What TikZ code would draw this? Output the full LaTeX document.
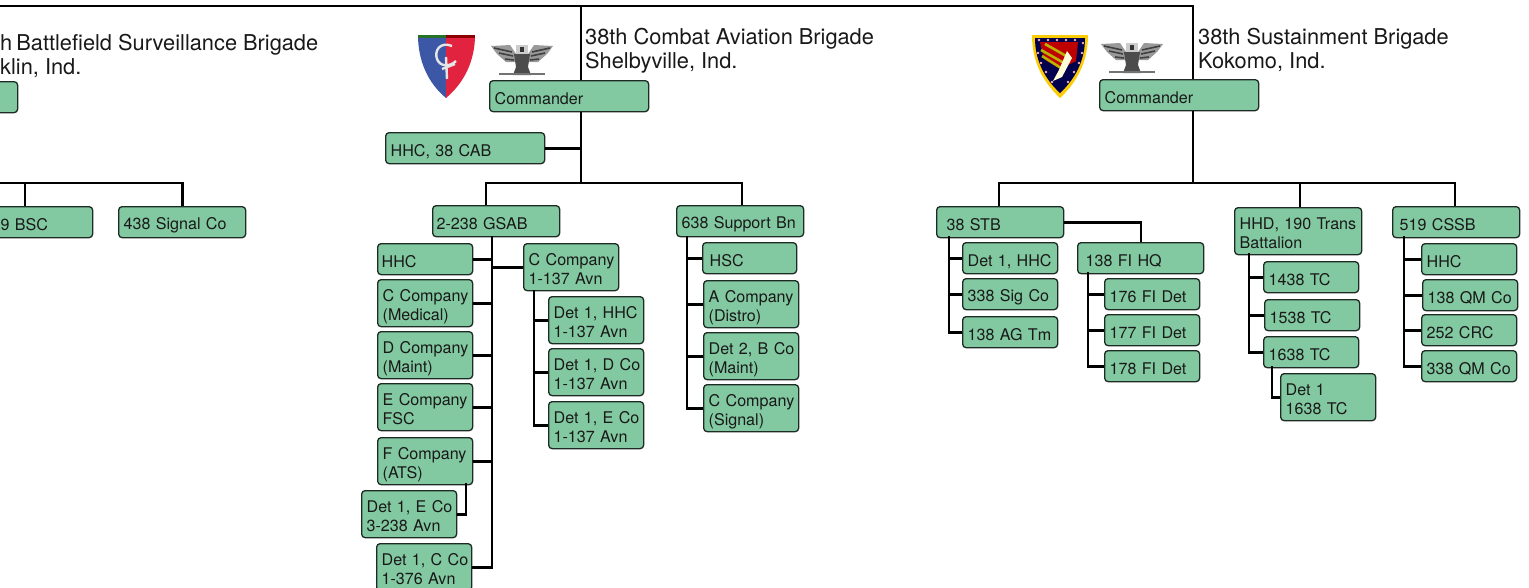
\documentclass[tikz,border=0pt]{standalone}
\usepackage{fontspec}
\setmainfont{TeX Gyre Heros}
\usepackage{tikz}
\usetikzlibrary{arrows.meta,positioning,fit,calc}

\definecolor{unitgreen}{HTML}{82C9A1}
\definecolor{unitedge}{HTML}{1E2A24}
\definecolor{patchblue}{HTML}{3B57A6}
\definecolor{patchred}{HTML}{E1233F}

% wings, body and branch of the rank badge, from the top middle
\newcommand{\eaglemark}[2]{%
  \begin{scope}[shift={(#1,#2)}]
    \fill[black!40] (-31,1) -- (-12,0) -- (-6,9) -- (-6,17) -- (-16,17) -- (-25,9) -- cycle;
    \fill[black!40] (31,1) -- (12,0) -- (6,9) -- (6,17) -- (16,17) -- (25,9) -- cycle;
    \draw[black!75, line width=1.6pt] (-28,3) -- (-10,7) (-23,8) -- (-9,11) (-17,14) -- (-8,15) (28,3) -- (10,7) (23,8) -- (9,11) (17,14) -- (8,15);
    \fill[black!70] (-8,9) -- (8,9) -- (6,22) -- (9,30) -- (-9,30) -- (-6,22) -- cycle;
    \fill[black!20] (-6,0) -- (6,0) -- (6,9) -- (-6,9) -- cycle;
    \fill[black!80] (-2,2) rectangle (2,7);
    \draw[black!55, line width=1.8pt] (-23,29) -- (23,29);
  \end{scope}}

\begin{document}
\begin{tikzpicture}[
  x=1pt, y=-1pt,
  font=\fontsize{16.1}{19}\selectfont,
  unit/.style={draw=unitedge, fill=unitgreen, rounded corners=3.5pt, line width=1.3pt, anchor=north west,
    align=left, inner xsep=3.5pt, inner ysep=0pt, text=black!90,
    execute at begin node={\leftskip=1.5pt\rule{0pt}{19pt}}, execute at end node={\rule[-3pt]{0pt}{3pt}}},
  narrow/.style={unit, text width=88pt},
  wide/.style={unit, text width=120pt},
  cmd/.style={unit, text width=152pt},
  oneline/.style={minimum height=31pt},
  twoline/.style={minimum height=47pt},
  head/.style={anchor=north west, align=left, inner sep=0pt, text=black!90,
    font=\fontsize{21.8}{24}\selectfont},
  link/.style={line width=2.8pt, black, line cap=butt}
]
\useasboundingbox (0,0) rectangle (1529,587);

% brigade titles
\node[head] (bsbtitle) at (0,34.5) {h\hspace{-2pt} Battlefield Surveillance Brigade\\klin, Ind.};
\node[head] (cabtitle) at (585,28.5) {38th Combat Aviation Brigade\\Shelbyville, Ind.};
\node[head] (sbtitle) at (1198,28.5) {38th Sustainment Brigade\\Kokomo, Ind.};

% battlefield surveillance brigade
\node[unit, oneline, text width=15pt] (bsbcmd) at (-5,81) {};
\node[unit, oneline, text width=90pt] (bsc) at (-5,206) {9 BSC};
\node[wide, oneline] (sigco) at (118,206) {438 Signal Co};

% combat aviation brigade
\node[cmd, oneline] (cabcmd) at (489,80) {Commander};
\node[cmd, oneline] (cabhhc) at (385,132) {HHC, 38 CAB};
\node[wide, oneline, inner xsep=2.5pt, text width=122pt] (gsab) at (432,205) {2-238 GSAB};
\node[wide, oneline] (spt) at (676,205) {638 Support Bn};

\node[narrow, oneline, inner xsep=2.5pt, text width=90pt] (hhc) at (377,243) {HHC};
\node[narrow, twoline] (cmed) at (377,279) {C Company\\(Medical)};
\node[narrow, twoline] (dco) at (377,331) {D Company\\(Maint)};
\node[narrow, twoline] (eco) at (377,383) {E Company\\FSC};
\node[narrow, twoline] (fco) at (377,437) {F Company\\(ATS)};
\node[narrow, twoline] (dete) at (361,490) {Det 1, E Co\\3-238 Avn};
\node[narrow, twoline] (detc) at (376,543) {\mbox{Det 1, C Co}\\1-376 Avn};

\node[narrow, twoline] (c137) at (523,243) {C Company\\1-137 Avn};
\node[narrow, twoline] (dethhc) at (548,296) {Det 1, HHC\\1-137 Avn};
\node[narrow, twoline] (detd) at (548,348) {\mbox{Det 1, D Co}\\1-137 Avn};
\node[narrow, twoline] (dete2) at (548,401) {Det 1, E Co\\1-137 Avn};

\node[narrow, oneline, inner xsep=5.5pt, text width=83pt] (hsc) at (702,242) {HSC};
\node[narrow, twoline] (aco) at (703,280) {A Company\\(Distro)};
\node[narrow, twoline] (detb) at (703,332) {Det 2, B Co\\(Maint)};
\node[narrow, twoline] (cco) at (703,384) {C Company\\(Signal)};

% sustainment brigade
\node[cmd, oneline] (sbcmd) at (1099,79) {Commander};
\node[wide, oneline, inner xsep=8.5pt, text width=110pt] (stb) at (936,206) {38 STB};
\node[narrow, oneline] (sthhc) at (962,242) {Det 1, HHC};
\node[narrow, oneline] (sig) at (962,278) {338 Sig Co};
\node[narrow, oneline] (agtm) at (962,316) {138 AG Tm};

\node[wide, oneline, inner xsep=6.5pt, text width=113pt] (fihq) at (1077,242) {138 FI HQ};
\node[narrow, oneline] (fione) at (1104,278) {176 FI Det};
\node[narrow, oneline] (fitwo) at (1104,314) {177 FI Det};
\node[narrow, oneline] (fithree) at (1104,350) {178 FI Det};

\node[wide, twoline] (hhd) at (1234,207) {HHD, 190 Trans\\Battalion};
\node[narrow, oneline] (tcone) at (1263,261) {1438 TC};
\node[narrow, oneline] (tctwo) at (1264,299) {1538 TC};
\node[narrow, oneline] (tcthree) at (1263,336) {1638 TC};
\node[narrow, twoline] (dettc) at (1280,373) {Det 1\\1638 TC};

\node[wide, oneline, inner xsep=5.5pt, text width=116pt] (cssb) at (1392,206) {519 CSSB};
\node[narrow, oneline] (csshhc) at (1421,243) {HHC};
\node[narrow, oneline] (qmone) at (1422,279) {138 QM Co};
\node[narrow, oneline] (crc) at (1421,314) {252 CRC};
\node[narrow, oneline] (qmtwo) at (1421,350) {338 QM Co};

% rails and drops
\coordinate (topend) at (-5,6);
\coordinate (cabrail) at (581,6);
\coordinate (sbrail) at (1193,6);
\coordinate (bsbbar) at (-5,183);
\coordinate (bscdrop) at (25,206);
\coordinate (gsabdrop) at (486,205);
\coordinate (sptdrop) at (742,205);
\coordinate (stbdrop) at (999,206);
\coordinate (hhddrop) at (1300,207);
\coordinate (cssbdrop) at (1455,206);
\coordinate (gsabtrunk) at (492,236);
\coordinate (c137trunk) at (534,290);
\coordinate (spttrunk) at (687,236);
\coordinate (stbtrunk) at (949,236);
\coordinate (fitrunk) at (1088,272);
\coordinate (fidrop) at (1141,242);
\coordinate (hhdtrunk) at (1249,253);
\coordinate (tctrunk) at (1272,366);
\coordinate (cssbtrunk) at (1404,236);
\coordinate (fcodrop) at (466,483);

\draw[link] (topend) -- (sbrail) -- (sbrail |- sbcmd.north);
\draw[link] (cabrail) -- (cabrail |- cabcmd.north);

\draw[link] (bsbbar) -| (sigco.north);
\draw[link] (bscdrop) -- (bscdrop |- bsbbar);

\draw[link] (cabrail |- cabcmd.south) -- (cabrail |- bsbbar);
\draw[link] (cabhhc.east) -- (cabhhc.east -| cabrail);
\draw[link] (gsabdrop) |- (sptdrop |- bsbbar) -- (sptdrop);

\draw[link] (gsabtrunk) |- (hhc.east);
\draw[link] (gsabtrunk) |- (cmed.east);
\draw[link] (gsabtrunk) |- (dco.east);
\draw[link] (gsabtrunk) |- (eco.east);
\draw[link] (gsabtrunk) |- (fco.east);
\draw[link] (gsabtrunk) |- (detc.east);
\draw[link] (gsabtrunk) |- (c137.west);
\draw[link] (fcodrop) |- (dete.east);

\draw[link] (c137trunk) |- (dethhc.west);
\draw[link] (c137trunk) |- (detd.west);
\draw[link] (c137trunk) |- (dete2.west);

\draw[link] (spttrunk) |- (hsc.west);
\draw[link] (spttrunk) |- (aco.west);
\draw[link] (spttrunk) |- (detb.west);
\draw[link] (spttrunk) |- (cco.west);

\draw[link] (sbrail |- sbcmd.south) -- (sbrail |- bsbbar);
\draw[link] (stbdrop) |- (cssbdrop |- bsbbar) -- (cssbdrop);
\draw[link] (hhddrop) -- (hhddrop |- bsbbar);

\draw[link] (stbtrunk) |- (sthhc.west);
\draw[link] (stbtrunk) |- (sig.west);
\draw[link] (stbtrunk) |- (agtm.west);
\draw[link] (stb.east) -| (fidrop);

\draw[link] (fitrunk) |- (fione.west);
\draw[link] (fitrunk) |- (fitwo.west);
\draw[link] (fitrunk) |- (fithree.west);

\draw[link] (hhdtrunk) |- (tcone.west);
\draw[link] (hhdtrunk) |- (tctwo.west);
\draw[link] (hhdtrunk) |- (tcthree.west);
\draw[link] (tctrunk) |- (dettc.west);

\draw[link] (cssbtrunk) |- (csshhc.west);
\draw[link] (cssbtrunk) |- (qmone.west);
\draw[link] (cssbtrunk) |- (crc.west);
\draw[link] (cssbtrunk) |- (qmtwo.west);

% division patch
\begin{scope}[shift={(418,35)}]
  \fill[patchblue] (0,0) -- (28,0) -- (28,63) .. controls (10,48) and (0,26) .. (0,0);
  \fill[patchred] (57,0) -- (28,0) -- (28,63) .. controls (46,48) and (57,26) .. (57,0);
  \fill[green!35!black!85] (0,0) rectangle (28,3);
  \fill[red!55!black] (28,0) rectangle (57,3);
  \draw[white!80!gray, line width=2.4pt] (34,11) .. controls (22,6) and (16,16) .. (19,24) .. controls (22,32) and (32,32) .. (38,26);
  \draw[white!80!gray, line width=2.4pt] (28,22) -- (29,44) (24,34) -- (37,29);
\end{scope}
\eaglemark{522}{45}

% sustainment patch
\begin{scope}[shift={(1032,35)}]
  \fill[yellow!65!orange] (0,0) -- (56,0) .. controls (56,28) and (44,48) .. (28,63) .. controls (12,48) and (0,28) .. (0,0);
  \fill[blue!30!black] (3,3) -- (53,3) .. controls (53,27) and (42,45) .. (28,58) .. controls (14,45) and (3,27) .. (3,3);
  \fill[red!75!black] (8,7) -- (46,7) -- (44,26) -- (28,34) -- (12,24) -- cycle;
  \draw[olive!60!yellow, line width=2.6pt] (9,15) -- (32,28) (10,21) -- (29,33) (13,9) -- (36,22);
  \fill[white!85!yellow] (35,16) -- (40,23) -- (30,42) -- (21,46) -- (27,35) -- cycle;
  \foreach \dx/\dy in {7/5,16/5,25/5,34/5,43/5,51/8,50/18,47/28,42/37,36/47,20/47,14/37,9/28,6/18}
    \fill[red!30!white] (\dx,\dy) circle (1.3pt);
\end{scope}
\eaglemark{1132}{43}
\end{tikzpicture}
\end{document}
